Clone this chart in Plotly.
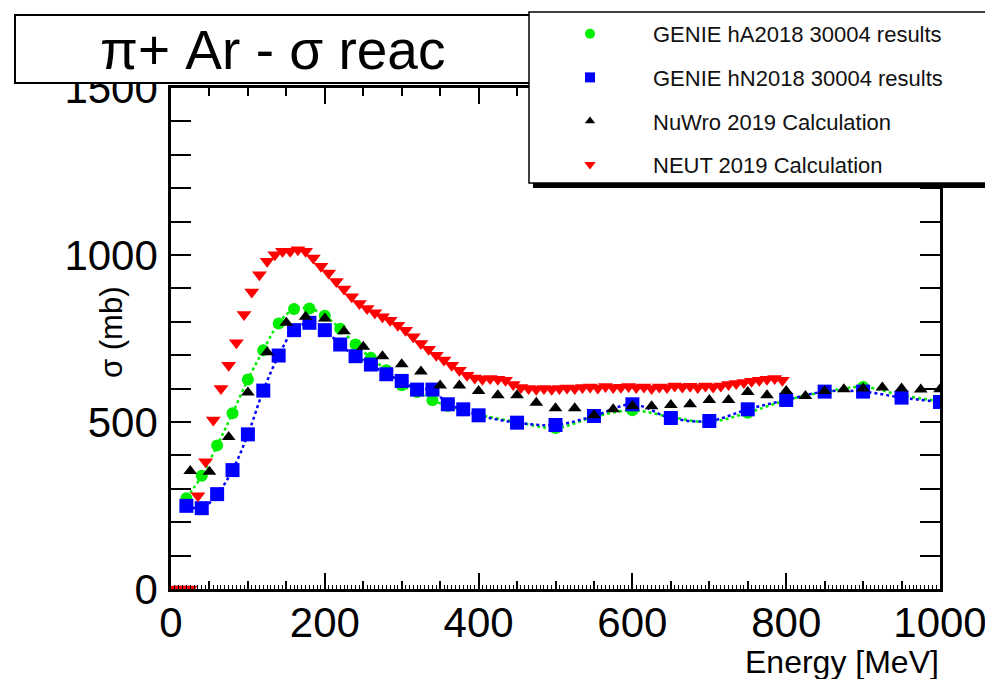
import plotly.graph_objects as go

# GENIE hA2018 (green circles)
ha_energy = [20, 40, 60, 80, 100, 120, 140, 160, 180, 200, 220, 240, 260, 280, 300, 320, 340, 360, 380, 400,
             450, 500, 550, 600, 650, 700, 750, 800, 850, 900, 950, 1000]
ha_xsec = [272, 339, 430, 526, 627, 715, 795, 838, 840, 818, 779, 732, 692, 655, 610, 590, 565, 548, 535, 522,
           500, 482, 515, 535, 515, 500, 528, 565, 590, 605, 580, 562]

# GENIE hN2018 (blue squares)
hn_energy = [20, 40, 60, 80, 100, 120, 140, 160, 180, 200, 220, 240, 260, 280, 300, 320, 340, 360, 380, 400,
             450, 500, 550, 600, 650, 700, 750, 800, 850, 900, 950, 1000]
hn_xsec = [249, 242, 284, 356, 463, 594, 699, 775, 797, 775, 732, 697, 672, 643, 623, 597, 597, 553, 538, 520,
           498, 491, 518, 553, 512, 503, 538, 566, 591, 591, 573, 560]

# NuWro 2019 (black triangles)
nuwro_energy = [25, 50, 75, 100, 125, 150, 175, 200, 225, 250, 275, 300, 325, 350, 375, 400, 425, 450, 475, 500,
                525, 550, 575, 600, 625, 650, 675, 700, 725, 750, 775, 800, 825, 850, 875, 900, 925, 950, 975, 1000]
nuwro_xsec = [353, 351, 455, 588, 709, 797, 815, 810, 772, 725, 697, 673, 651, 609, 609, 593, 580, 580, 558, 541,
              541, 520, 538, 548, 547, 551, 553, 566, 566, 590, 580, 593, 578, 593, 598, 600, 603, 600, 597, 598]

# NEUT 2019 (red inverted triangles)
neut_energy = [5, 15, 25, 35, 45, 55, 65, 75, 85, 95, 105, 115, 125, 135, 145, 155, 165, 175, 185, 195,
               205, 215, 225, 235, 245, 255, 265, 275, 285, 295, 305, 315, 325, 335, 345, 355, 365, 375, 385, 395,
               405, 415, 425, 435, 445, 455, 465, 475, 485, 495, 505, 515, 525, 535, 545, 555, 565, 575, 585, 595,
               605, 615, 625, 635, 645, 655, 665, 675, 685, 695, 705, 715, 725, 735, 745, 755, 765, 775, 785, 795]
neut_xsec = [0, 0, 0, 279, 381, 506, 600, 670, 737, 822, 889, 941, 981, 1001, 1011, 1011, 1016, 1011, 991, 966,
             946, 921, 898, 875, 855, 840, 827, 815, 805, 790, 775, 755, 735, 718, 700, 686, 670, 655, 640, 632,
             628, 630, 628, 625, 612, 603, 600, 598, 600, 598, 600, 602, 600, 603, 605, 602, 606, 603, 604, 606,
             603, 605, 600, 605, 603, 608, 605, 607, 603, 608, 605, 608, 612, 615, 618, 622, 625, 628, 630, 625]

series_names = ["GENIE hA2018 30004 results", "GENIE hN2018 30004 results",
                "NuWro 2019 Calculation", "NEUT 2019 Calculation"]

FONT = "Liberation Sans, Arial, Helvetica, sans-serif"

# the page body has an 8px margin, so the figure is drawn 8px smaller and all
# pixel positions below are given in window pixels
OFF = 8
W, H = 993 - OFF, 679 - OFF
L, R, T, B = 171, 940, 88, 589
def px(x):
    return (x - L) / (R - L)
def py(y):
    return (B - y) / (B - T)

styles = [
    dict(symbol="circle", color="#00ee00", size=12, legsize=10),
    dict(symbol="square", color="#0000ff", size=14, legsize=10),
    dict(symbol="triangle-up", color="black", size=12, legsize=9),
    dict(symbol="triangle-down", color="#ff0000", size=13, legsize=10),
]
energies = [ha_energy, hn_energy, nuwro_energy, neut_energy]
xsecs = [ha_xsec, hn_xsec, nuwro_xsec, neut_xsec]

fig = go.Figure()

# dotted curves through GENIE points
fig.add_trace(go.Scatter(x=ha_energy, y=ha_xsec, mode="lines", showlegend=False,
                         line=dict(color="#00ee00", width=2.5, dash="dot", shape="spline")))
fig.add_trace(go.Scatter(x=hn_energy, y=hn_xsec, mode="lines", showlegend=False,
                         line=dict(color="#0000ff", width=2.5, dash="dot", shape="spline")))

for i in range(4):
    s = styles[i]
    fig.add_trace(go.Scatter(x=energies[i], y=xsecs[i], mode="markers", name=series_names[i],
                             showlegend=False, legendgroup=str(i),
                             marker=dict(symbol=s["symbol"], size=s["size"], color=s["color"])))
# legend entries (smaller symbols, as in the original)
for i in range(4):
    s = styles[i]
    fig.add_trace(go.Scatter(x=[None], y=[None], mode="markers", name=series_names[i],
                             legendgroup=str(i),
                             marker=dict(symbol=s["symbol"], size=s["legsize"], color=s["color"])))

# empty trace to carry the fine-tick axis
fig.add_trace(go.Scatter(x=[], y=[], xaxis="x2", showlegend=False, hoverinfo="skip"))

fig.update_layout(
    width=W, height=H,
    margin=dict(l=L - OFF, r=993 - R, t=T - OFF, b=679 - B, autoexpand=False),
    paper_bgcolor="white", plot_bgcolor="white",
    font=dict(family=FONT, color="black"),
    xaxis=dict(range=[0, 1000], tickvals=[0, 200, 400, 600, 800, 1000], ticks="inside", ticklen=16,
               tickwidth=1.5, tickcolor="black", showgrid=False, zeroline=False,
               showline=True, linecolor="black", linewidth=2.5, mirror="allticks",
               tickfont=dict(size=42, family=FONT), ticklabelstandoff=-5, automargin=False,
               minor=dict(dtick=50, ticks="inside", ticklen=8, tickwidth=1.5, tickcolor="black")),
    xaxis2=dict(range=[0, 1000], overlaying="x", dtick=5, ticks="inside", ticklen=4, tickwidth=1,
                tickcolor="black", showticklabels=False, showgrid=False, zeroline=False,
                showline=False, side="bottom", anchor="y"),
    yaxis=dict(range=[0, 1500], tickvals=[0, 500, 1000, 1500], ticks="inside", ticklen=20,
               tickwidth=1.5, tickcolor="black", showgrid=False, zeroline=False,
               showline=True, linecolor="black", linewidth=2.5, mirror="allticks",
               tickfont=dict(size=42, family=FONT), ticklabelstandoff=2, automargin=False,
               minor=dict(dtick=100, ticks="inside", ticklen=10, tickwidth=1.5, tickcolor="black")),
    legend=dict(x=px(527), y=py(13), xanchor="left", yanchor="top", bgcolor="rgba(0,0,0,0)",
                borderwidth=0, font=dict(size=22, family=FONT, color="#111111"),
                tracegroupgap=12, itemwidth=116),
    showlegend=True,
)

# title box
fig.add_shape(type="rect", xref="paper", yref="paper", x0=px(15), x1=px(560), y0=py(83), y1=py(15),
              line=dict(color="black", width=2), fillcolor="white", layer="above")
# legend box with shadow
fig.add_shape(type="rect", xref="paper", yref="paper", x0=px(533), x1=px(1010), y0=py(188), y1=py(16),
              line=dict(width=0), fillcolor="black", layer="above")
fig.add_shape(type="rect", xref="paper", yref="paper", x0=px(529), x1=px(1005), y0=py(183), y1=py(12),
              line=dict(color="black", width=1.5), fillcolor="white", layer="above")

fig.add_annotation(text="\u03c0+ Ar - \u03c3 reac", xref="paper", yref="paper", x=px(272), y=py(50),
                   showarrow=False, xanchor="center", yanchor="middle", font=dict(size=55, family=FONT))
fig.add_annotation(text="\u03c3 (mb)", xref="paper", yref="paper", x=px(111), y=py(333), textangle=-90,
                   showarrow=False, xanchor="center", yanchor="middle", font=dict(size=31, family=FONT))
fig.add_annotation(text="Energy [MeV]", xref="paper", yref="paper", x=px(941), y=py(662),
                   showarrow=False, xanchor="right", yanchor="middle", font=dict(size=32, family=FONT))

fig.write_html("out.html")
